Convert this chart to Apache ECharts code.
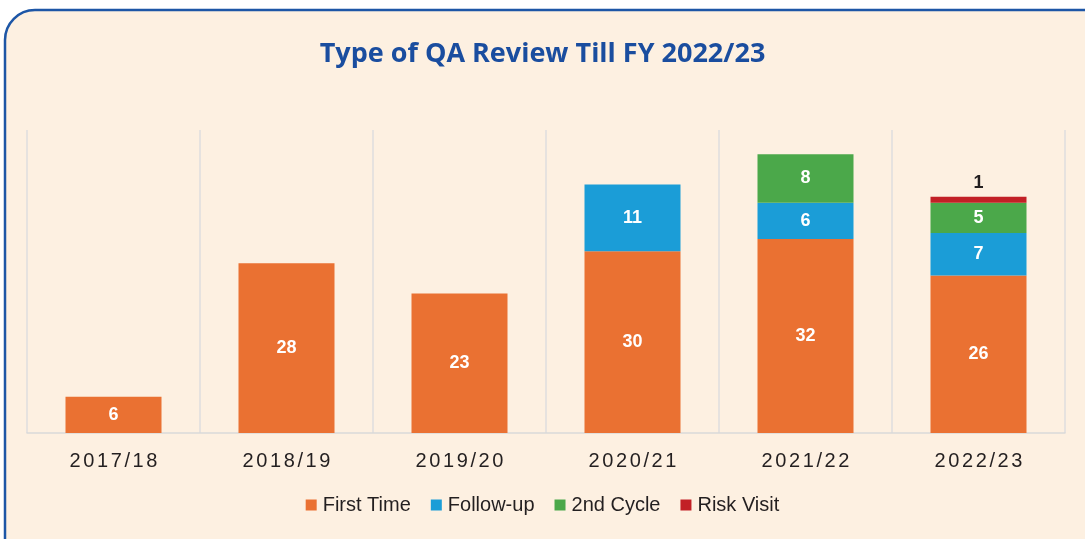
<!DOCTYPE html>
<html>
<head>
<meta charset="UTF-8">
<title>Type of QA Review</title>
<style>
html,body{margin:0;padding:0;background:#ffffff;}
#chart{width:1085px;height:539px;}
</style>
</head>
<body>
<div id="chart"></div>
<script src="https://cdn.jsdelivr.net/npm/echarts@6/dist/echarts.min.js"></script>
<script>
var years = ['2017/18', '2018/19', '2019/20', '2020/21', '2021/22', '2022/23'];
var firstTime = [6, 28, 23, 30, 32, 26];
var followUp = [null, null, null, 11, 6, 7];
var secondCycle = [null, null, null, null, 8, 5];
var riskVisit = [null, null, null, null, null, 1];

var chart = echarts.init(document.getElementById('chart'));

function barSeries(name, data, color, labelColor, pos) {
    return {
        name: name,
        type: 'bar',
        stack: 'total',
        barWidth: 96,
        data: data,
        itemStyle: {color: color},
        label: {
            show: true,
            position: pos || 'inside',
            color: labelColor || '#ffffff',
            fontFamily: 'Liberation Sans',
            fontWeight: 'bold',
            fontSize: 18
        }
    };
}

// spread the year labels out a little, like the original
function spaced(value) {
    return value.split('').map(function (c) { return '{c|' + c + '}'; }).join('');
}

var option = {
    backgroundColor: '#ffffff',
    animation: false,
    graphic: [{
        type: 'rect',
        z: -10,
        shape: {x: 5, y: 10, width: 1110, height: 570, r: 30},
        style: {fill: '#fdf0e1', stroke: '#1d56a6', lineWidth: 2.5}
    }],
    title: {
        text: 'Type of QA Review Till FY 2022/23',
        left: 'center',
        top: 36,
        textStyle: {
            color: '#1a4d9f',
            fontFamily: 'Open Sans',
            fontWeight: 'bold',
            fontSize: 27
        }
    },
    legend: {
        bottom: 19,
        left: 'center',
        itemWidth: 11,
        itemHeight: 11,
        itemGap: 20,
        icon: 'rect',
        textStyle: {color: '#231f20', fontFamily: 'Liberation Sans', fontSize: 20, padding: [0, 0, 0, 1]},
        data: ['First Time', 'Follow-up', '2nd Cycle', 'Risk Visit']
    },
    grid: {left: 27, right: 20, top: 130, bottom: 106},
    xAxis: {
        type: 'category',
        data: years,
        axisLine: {lineStyle: {color: '#d9d9d9', width: 1.5}},
        axisTick: {show: false},
        splitLine: {show: true, interval: 0, lineStyle: {color: '#dedede', width: 1.5}},
        axisLabel: {
            interval: 0,
            margin: 18,
            formatter: spaced,
            rich: {
                c: {
                    color: '#231f20',
                    fontFamily: 'Liberation Sans',
                    fontSize: 20,
                    padding: [0, 1.3, 0, 1.3]
                }
            }
        }
    },
    yAxis: {
        type: 'value',
        min: 0,
        max: 50,
        show: false,
        splitLine: {show: false}
    },
    series: [
        barSeries('First Time', firstTime, '#ea7132'),
        barSeries('Follow-up', followUp, '#1b9dd7'),
        barSeries('2nd Cycle', secondCycle, '#4ba84a'),
        barSeries('Risk Visit', riskVisit, '#c22026', '#231f20', 'top')
    ]
};

chart.setOption(option);
</script>
</body>
</html>
